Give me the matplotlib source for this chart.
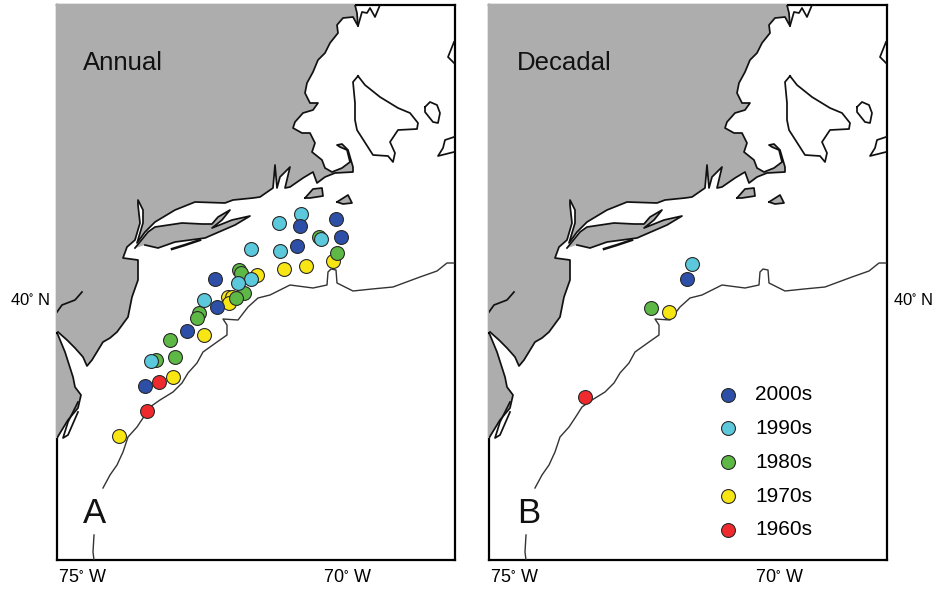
import numpy as np
import matplotlib
matplotlib.use('Agg')
import matplotlib.pyplot as plt

plt.rcParams['font.family'] = ['Liberation Sans', 'DejaVu Sans']
plt.rcParams['mathtext.default'] = 'regular'

decades = ['1970s', '1960s', '1980s', '1990s', '2000s']  # drawing order
colors = {'2000s': '#2E4FA8', '1990s': '#5CC8DC', '1980s': '#5DB845',
          '1970s': '#F7E614', '1960s': '#EE2A2E'}
legend_order = ['2000s', '1990s', '1980s', '1970s', '1960s']

# annual stations, (lon, lat)
annual_lon = {
    '2000s': [-70.91, -70.23, -70.13, -70.96, -72.51, -72.47, -73.04, -73.83],
    '1990s': [-70.89, -71.30, -70.50, -71.83, -71.28, -71.83, -72.08, -72.72, -73.72],
    '1980s': [-70.21, -70.55, -72.06, -72.02, -71.96, -72.11, -72.81, -72.85, -73.36, -73.26, -73.62],
    '1970s': [-70.28, -70.79, -71.21, -71.72, -72.26, -72.19, -72.25, -72.72, -73.30, -74.32],
    '1960s': [-73.57, -73.79],
}
annual_lat = {
    '2000s': [41.04, 41.14, 40.88, 40.75, 40.28, 39.87, 39.52, 38.72],
    '1990s': [41.22, 41.09, 40.86, 40.71, 40.68, 40.28, 40.22, 39.97, 39.09],
    '1980s': [40.65, 40.88, 40.41, 40.36, 40.07, 40.00, 39.78, 39.71, 39.39, 39.15, 39.10],
    '1970s': [40.54, 40.46, 40.42, 40.33, 40.01, 40.01, 39.93, 39.46, 38.86, 38.00],
    '1960s': [38.78, 38.36],
}
decadal_lon = {'2000s': [-71.75], '1990s': [-71.66], '1980s': [-72.43], '1970s': [-72.09], '1960s': [-73.68]}
decadal_lat = {'2000s': [40.28], '1990s': [40.49], '1980s': [39.86], '1970s': [39.80], '1960s': [38.57]}

# coastline (x, y on the page), converted to lon/lat below
coast_north = [(355,5),(357,13),(358,26),(353,17),(343,18),(337,25),(338,33),(330,43),(325,53),(318,60),
               (313,72),(307,83),(305,93),(310,103),(318,103),(313,110),(303,113),(295,122),(293,128),
               (302,133),(310,133),(315,143),(312,152),(322,160),(325,168),(332,172),(342,168),(350,162),
               (347,150),(340,147),(337,145),(342,144),(348,150),(353,167),(353,172),(335,173),(325,177),
               (317,183),(313,172),(303,178),(290,187),(285,188),(290,167),(280,177),(277,188),(275,165),
               (273,188),(260,197),(253,198),(233,200),(225,203),(195,202),(175,210),(155,222),(145,232),
               (137,243),(143,223),(143,210),(138,200),(138,205),(140,223),(135,240),(127,247),(123,258),
               (138,260),(138,280),(132,297),(128,317),(117,332),(110,338),(103,342),(92,360),(87,366),
               (83,357),(75,348),(67,340),(58,332)]
land_margin = [(56,332),(56,4),(355,4)]
land_south = [(56,334),(58,335),(65,352),(73,377),(75,387),(81,395),(78,408),(68,420),(57,438),(56,438)]
long_island = [(135,248),(148,232),(155,227),(182,223),(202,224),(212,224),(218,217),(230,210),(222,220),
               (212,228),(232,220),(250,216),(235,225),(205,238),(175,242),(158,248),(145,245)]
vineyard = [(305,198),(313,189),(322,188),(323,196),(310,198)]
nantucket = [(337,202),(348,195),(352,203),(343,204)]
peninsula = [(358,76),(353,82),(355,103),(355,120),(357,130),(373,155),(388,156),(393,162),(395,153),
             (390,142),(398,130),(417,129),(418,123),(410,113),(398,108),(380,97),(365,85),(358,76)]
island_east = [(425,107),(430,102),(437,105),(440,113),(438,123),(433,122),(425,112),(425,107)]
edge_north = [(454,42),(448,57),(454,63)]
edge_south = [(454,137),(445,140),(443,148),(438,156),(454,152)]
bay_line = [(82,292),(75,300),(62,305),(57,312)]
sliver = [(78,402),(68,422),(63,438),(68,435),(78,412)]
barrier = [(172,249),(185,245),(200,240)]
top_inlets = [(358,26),(362,12),(367,13),(370,8),(375,17),(380,5)]
shelf_break = [(103,488),(110,475),(117,465),(123,452),(128,437),(137,427),(143,418),(150,407),(160,400),
               (173,392),(182,383),(188,373),(197,363),(203,352),(217,342),(227,335),(227,325),(223,319),
               (238,320),(248,307),(258,298),(270,295),(290,285),(313,288),(327,285),(328,272),(331,269),
               (336,270),(337,283),(353,291),(372,289),(393,287),(420,277),(437,271),(447,263),(454,263)]
canyon_stub = [(94,535),(93,552),(94,560)]


def to_lonlat(trace):
    pts = np.array(trace, dtype=float)
    return -75 + (pts[:, 0] - 83) / 53, 40 + (298 - pts[:, 1]) / 69


def draw_panel(ax, lons, lats, title, letter, letter_x):
    for poly in [coast_north + land_margin, land_south]:
        x, y = to_lonlat(poly)
        ax.fill(x, y, facecolor='#ADADAD', edgecolor='none', zorder=2.6, clip_on=False)
    for poly in [long_island, vineyard, nantucket]:
        x, y = to_lonlat(poly)
        ax.fill(x, y, facecolor='#ADADAD', edgecolor='none', zorder=2.6)
    for line in [coast_north, land_south[1:-1], long_island, vineyard + vineyard[:1], nantucket + nantucket[:1],
                 peninsula, island_east, edge_north, edge_south, bay_line, sliver, top_inlets]:
        x, y = to_lonlat(line)
        ax.plot(x, y, color='#111111', lw=1.25, zorder=2.7)
    x, y = to_lonlat(barrier)
    ax.plot(x, y, color='#111111', lw=1.8, zorder=2.7)
    for line in [shelf_break, canyon_stub]:
        x, y = to_lonlat(line)
        ax.plot(x, y, color='#333333', lw=1.0, zorder=2.7)
    handles = {}
    for dec in decades:
        handles[dec] = ax.scatter(lons[dec], lats[dec], s=100, c=colors[dec], edgecolors='#2A2A2A',
                                  linewidths=0.8, zorder=3, label=dec)
    ax.set_xlim(-75 + (57 - 83) / 53, -75 + (455 - 83) / 53)
    ax.set_ylim(40 + (298 - 560) / 69, 40 + (298 - 5) / 69)
    ax.set_xticks([-75, -70], ['75$^{\\circ}$ W', '70$^{\\circ}$ W'], fontsize=13)
    ax.set_yticks([40], ['40$^{\\circ}$ N'], fontsize=12)
    ax.tick_params(axis='x', length=0, pad=6.5)
    ax.tick_params(axis='y', length=0, pad=4.5)
    for s in ax.spines.values():
        s.set_linewidth(1.6)
        s.set_color('black')
    ax.text(letter_x, 0.883, title, transform=ax.transAxes, fontsize=18.5, color='#111111', zorder=5)
    ax.text(letter_x, 0.067, letter, transform=ax.transAxes, fontsize=25, color='#111111', zorder=5)
    return handles


fig = plt.figure(figsize=(9.32, 5.90), dpi=100)
W, H = 932, 590
ax_a = fig.add_axes([57 / W, 1 - 560 / H, 398 / W, 555 / H])
ax_b = fig.add_axes([489 / W, 1 - 560 / H, 398 / W, 555 / H])

draw_panel(ax_a, annual_lon, annual_lat, 'Annual', 'A', 0.065)
h = draw_panel(ax_b, decadal_lon, decadal_lat, 'Decadal', 'B', 0.07)
ax_b.yaxis.tick_right()

ax_b.legend([h[d] for d in legend_order], legend_order, loc='upper left', bbox_to_anchor=(0.548, 0.315),
            frameon=False, fontsize=15, labelspacing=0.71, handletextpad=0.32, borderpad=0, borderaxespad=0)

fig.savefig('out.png', dpi=100)
